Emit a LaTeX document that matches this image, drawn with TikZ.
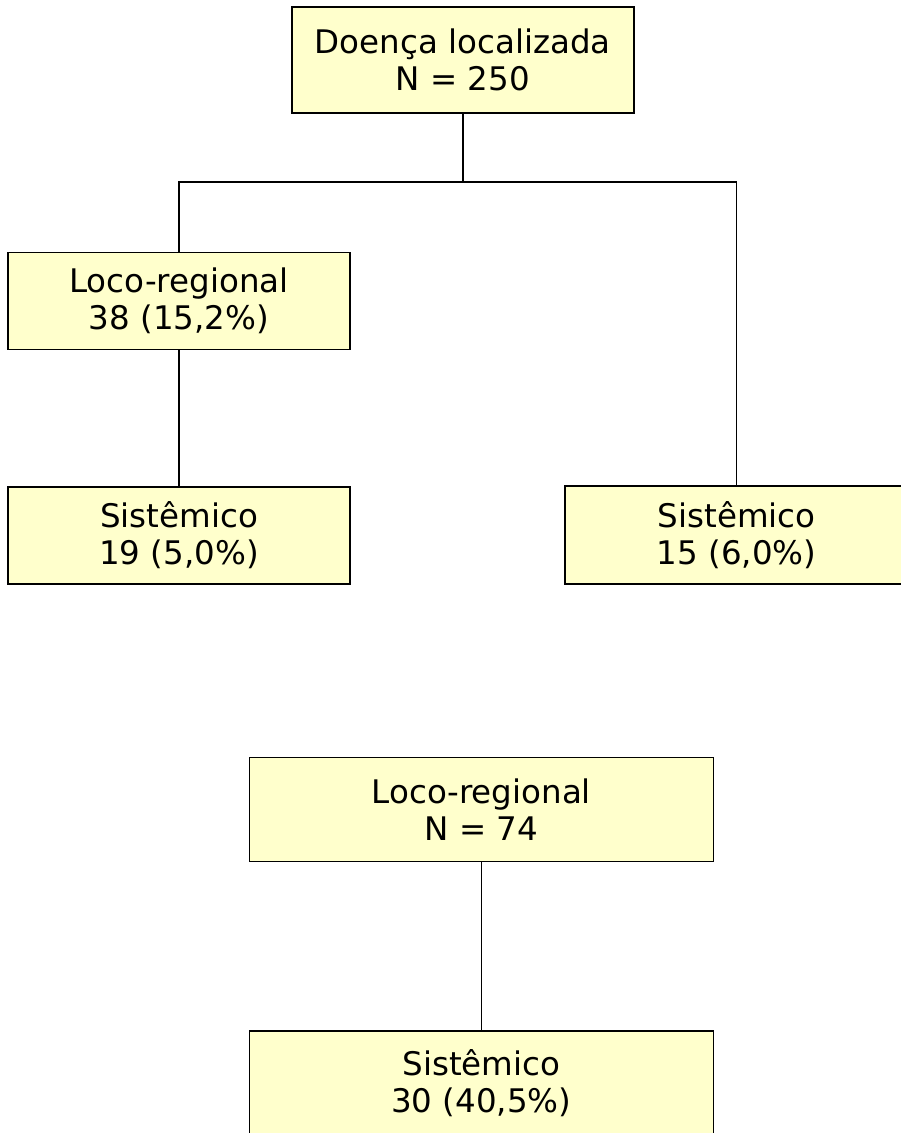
\documentclass[tikz,border=0pt]{standalone}
\usepackage{fontspec}
\setmainfont{DejaVu Sans}
\definecolor{boxfill}{HTML}{FFFFCC}
\begin{document}
\begin{tikzpicture}[x=1pt,y=1pt,
  box/.style={draw=black, line width=1.5pt, fill=boxfill, rectangle, align=center,
    inner sep=0pt, font=\fontsize{32.5}{37}\selectfont},
  link/.style={draw=black, line width=1.5pt}]
\useasboundingbox (0,0) rectangle (901,-1133);
\node[box, minimum width=342pt, minimum height=106pt] (b1) at (462.8,-60) {Doença localizada\\N = 250};
\node[box, minimum width=342pt, minimum height=97pt] (b2) at (179,-300.8) {Loco-regional\\38 (15,2\%)};
\node[box, minimum width=342pt, minimum height=97pt] (b3) at (179,-535.3) {Sistêmico\\19 (5,0\%)};
\node[box, minimum width=343pt, minimum height=98pt] (b4) at (736.7,-535.2) {Sistêmico\\15 (6,0\%)};
\node[box, minimum width=464pt, minimum height=104.4pt] (b5) at (481.3,-809.5) {Loco-regional\\N = 74};
\node[box, minimum width=464pt, minimum height=104pt] (b6) at (481.3,-1083) {Sistêmico\\30 (40,5\%)};
\coordinate (hj) at (462.8,-182);
\draw[link] (b1.south) -- (hj);
\draw[link] (b2.north) |- (hj) -| (b4.north);
\draw[link] (b2.south) -- (b3.north);
\draw[link] (b5.south) -- (b6.north);
\end{tikzpicture}
\end{document}
